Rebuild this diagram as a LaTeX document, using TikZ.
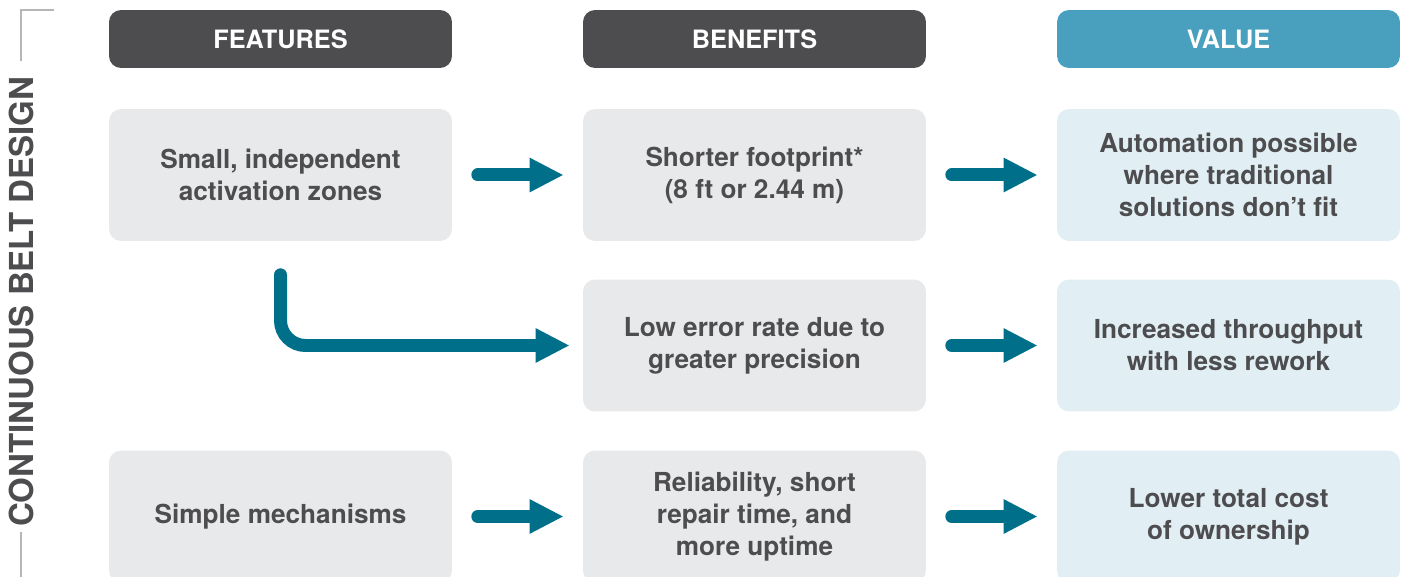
\documentclass[tikz,border=0pt]{standalone}
\usepackage{fontspec}
\setmainfont{TeX Gyre Heros}
\usepackage{tikz}
\usetikzlibrary{arrows.meta}

\definecolor{darkgray}{HTML}{4D4D4F}
\definecolor{valueblue}{HTML}{48A0BE}
\definecolor{boxgray}{HTML}{E8E9EB}
\definecolor{boxblue}{HTML}{E1EFF5}
\definecolor{arrowteal}{HTML}{00708A}
\definecolor{linegray}{HTML}{B5B6B8}

\begin{document}
\begin{tikzpicture}[x=0.02cm, y=-0.02cm,
  header/.style={rounded corners=0.24cm, minimum width=6.86cm, minimum height=1.16cm,
    inner sep=0pt, text=white, font=\bfseries\fontsize{14.4}{17}\selectfont},
  item/.style={rounded corners=0.24cm, minimum width=6.86cm, minimum height=2.64cm,
    inner sep=0pt, align=center, text=darkgray, font=\bfseries\fontsize{14.9}{18.2}\selectfont},
  flow/.style={draw=arrowteal, line width=0.26cm, line cap=round,
    -{Triangle[length=0.68cm, width=0.64cm]}}]

\useasboundingbox (0,0) rectangle (1406,577);

% side label

\draw[linegray, line width=0.035cm] (54,10) -- (21,10) -- (21,61);
\draw[linegray, line width=0.035cm] (21,532) -- (21,577);
\node[rotate=90, text=darkgray, font=\bfseries\fontsize{18.8}{22}\selectfont] (side) at (21,302) {CONTINUOUS BELT DESIGN};

% headers

\node[header, fill=darkgray] (hfeat) at (280.5,39) {FEATURES};
\node[header, fill=darkgray] (hben) at (754.5,39) {BENEFITS};
\node[header, fill=valueblue] (hval) at (1228.5,39) {VALUE};

% features

\node[item, fill=boxgray] (feat1) at (280.5,175) {Small, independent\\activation zones};
\node[item, fill=boxgray] (feat3) at (280.5,516.5) {Simple mechanisms};

% benefits

\node[item, fill=boxgray] (ben1) at (754.5,175) {Shorter footprint*\\(8 ft or 2.44 m)};
\node[item, fill=boxgray] (ben2) at (754.5,345.5) {Low error rate due to\\greater precision};
\node[item, fill=boxgray] (ben3) at (754.5,516.5) {Reliability, short\\repair time, and\\more uptime};

% value

\node[item, fill=boxblue] (val1) at (1228.5,175) {Automation possible\\where traditional\\solutions don't fit};
\node[item, fill=boxblue] (val2) at (1228.5,345.5) {Increased throughput\\with less rework};
\node[item, fill=boxblue] (val3) at (1228.5,516.5) {Lower total cost\\of ownership};

% features to benefits
\draw[flow, shorten <=0.51cm, shorten >=0.38cm] (feat1) -- (ben1);
\draw[flow, rounded corners=0.5cm, shorten <=0.67cm, shorten >=0.26cm] (feat1.south) |- (ben2.west);
\draw[flow, shorten <=0.51cm, shorten >=0.38cm] (feat3) -- (ben3);

% benefits to value
\draw[flow, shorten <=0.51cm, shorten >=0.38cm] (ben1) -- (val1);
\draw[flow, shorten <=0.51cm, shorten >=0.38cm] (ben2) -- (val2);
\draw[flow, shorten <=0.51cm, shorten >=0.38cm] (ben3) -- (val3);

\end{tikzpicture}
\end{document}
